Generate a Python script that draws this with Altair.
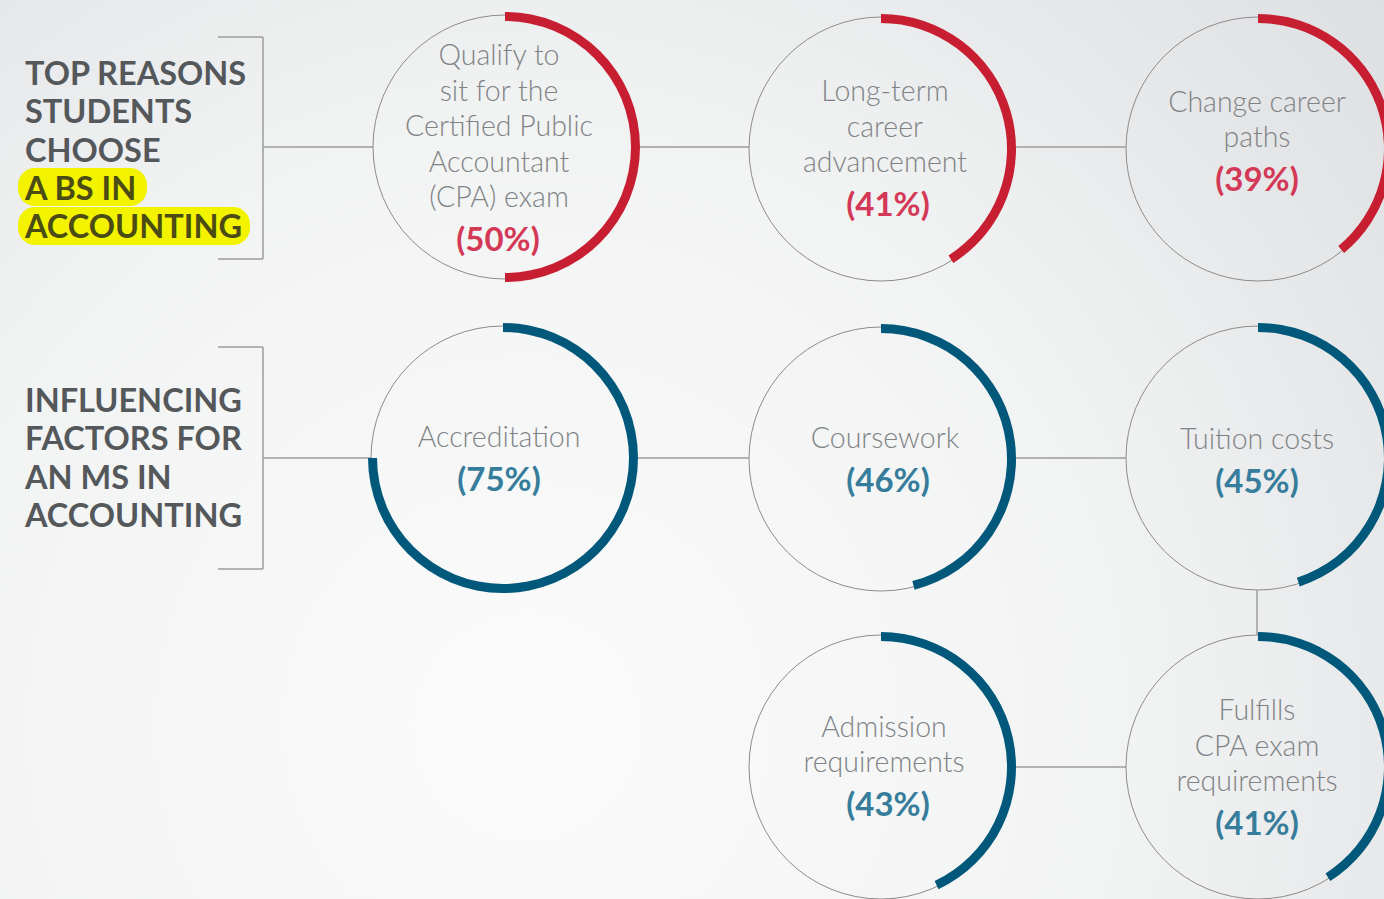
import altair as alt
import pandas as pd
import math

W, H = 1384, 899

# ---- data ----
circle_names = ["Qualify", "Long-term", "Change", "Accreditation", "Coursework", "Tuition", "Admission", "Fulfills"]
circle_groups = ["bs", "bs", "bs", "ms", "ms", "ms", "ms", "ms"]
circle_pcts = [50, 41, 39, 75, 46, 45, 43, 41]
circle_labels = [
    ["Qualify to", "sit for the", "Certified Public", "Accountant", "(CPA) exam"],
    ["Long-term", "career", "advancement"],
    ["Change career", "paths"],
    ["Accreditation"],
    ["Coursework"],
    ["Tuition costs"],
    ["Admission", "requirements"],
    ["Fulfills", "CPA exam", "requirements"],
]
title_bs = ["TOP REASONS", "STUDENTS", "CHOOSE", "A BS IN", "ACCOUNTING"]
title_ms = ["INFLUENCING", "FACTORS FOR", "AN MS IN", "ACCOUNTING"]

# ---- layout (pixels) ----
centers_x = [505, 881, 1258, 503, 881, 1258, 881, 1258]
centers_y = [147, 149, 149, 458, 459, 458, 767, 767]
label_x = [499, 885, 1257, 499, 885, 1257, 884, 1257]
pct_x = [498, 888, 1257, 499, 888, 1257, 888, 1257]
pct_offset = [104, 67, 42, 33, 33, 35, 49, 68]   # baseline of percent text below center
R = 132
LINE_H = 35.5

red, blue = "#c81e32", "#02587b"
red_txt, blue_txt = "#d33956", "#367d9b"
FONT = "Lato"

circ = pd.DataFrame({"name": circle_names, "group": circle_groups, "pct": circle_pcts,
                     "cx": centers_x, "cy": centers_y})
circ["t0"] = 0.0
circ["t1"] = circ["pct"] / 100 * 2 * math.pi
circ["color"] = [red if g == "bs" else blue for g in circ["group"]]

text_rows = []
for i, lines in enumerate(circle_labels):
    base = centers_y[i] + pct_offset[i]
    n = len(lines)
    for j, ln in enumerate(lines):
        y = base - 44 - (n - 1 - j) * LINE_H
        text_rows.append({"t": ln, "x": label_x[i], "y": y, "kind": "label"})
    text_rows.append({"t": f"({circle_pcts[i]}%)", "x": pct_x[i], "y": base,
                      "kind": "pct_" + circle_groups[i]})
texts = pd.DataFrame(text_rows)

title_rows = []
for j, ln in enumerate(title_bs):
    title_rows.append({"t": ln, "x": 25, "y": 85 + j * 38.3, "hl": (j >= 3)})
for j, ln in enumerate(title_ms):
    title_rows.append({"t": ln, "x": 25, "y": 412 + j * 38.3, "hl": False})
titles = pd.DataFrame(title_rows)

# connector lines
seg = []
for row_y, idxs in [(147, [0, 1, 2]), (458, [3, 4, 5])]:
    seg.append({"x": 263, "x2": centers_x[idxs[0]] - R, "y": row_y, "y2": row_y})
    for a, b in zip(idxs[:-1], idxs[1:]):
        seg.append({"x": centers_x[a] + R, "x2": centers_x[b] - R, "y": row_y, "y2": row_y})
seg.append({"x": centers_x[6] + R, "x2": centers_x[7] - R, "y": 767, "y2": 767})
seg.append({"x": 1257, "x2": 1257, "y": centers_y[5] + R, "y2": centers_y[7] - R})
# brackets
for top, bot in [(37, 259), (347, 569)]:
    seg.append({"x": 263, "x2": 263, "y": top, "y2": bot})
    seg.append({"x": 218, "x2": 263, "y": top, "y2": top})
    seg.append({"x": 218, "x2": 263, "y": bot, "y2": bot})
segs = pd.DataFrame(seg)

hl = pd.DataFrame({"x": [18, 18], "x2": [147, 250], "y": [168, 207], "y2": [206, 245]})

xs = alt.Scale(domain=[0, W], range=[0, W])
ys = alt.Scale(domain=[0, H], range=[0, H])
X = lambda f: alt.X(f, type="quantitative", scale=xs, axis=None)
Y = lambda f: alt.Y(f, type="quantitative", scale=ys, axis=None)

bg = alt.Chart(pd.DataFrame({"a": [0]})).mark_rect(
    fill=alt.RadialGradient(gradient="radial", x1=0.38, y1=0.7, r1=0.0, x2=0.38, y2=0.7, r2=0.85,
                            stops=[alt.GradientStop(color="#fbfbfb", offset=0),
                                   alt.GradientStop(color="#f2f3f3", offset=0.5),
                                   alt.GradientStop(color="#dcdde0", offset=1)])
).encode(x=alt.value(0), x2=alt.value(W), y=alt.value(0), y2=alt.value(H))

lines_layer = alt.Chart(segs).mark_rule(color="#9c9c9c", strokeWidth=1.5).encode(
    x=X("x"), x2="x2", y=Y("y"), y2="y2")

rings = alt.Chart(circ).mark_point(shape="circle", filled=False, size=(2 * R) ** 2,
                                   color="#8c8c8c", strokeWidth=1, opacity=1).encode(
    x=X("cx"), y=Y("cy"))

arcs = alt.Chart(circ).mark_arc(innerRadius=126, outerRadius=135).encode(
    x=X("cx"), y=Y("cy"),
    theta=alt.Theta("t0:Q", scale=None), theta2="t1:Q",
    fill=alt.Fill("color:N", scale=None))

hl_layer = alt.Chart(hl).mark_rect(color="#f3f300", cornerRadius=17).encode(
    x=X("x"), x2="x2", y=Y("y"), y2="y2")

title_layer = alt.Chart(titles).mark_text(
    align="left", baseline="alphabetic", font=FONT, fontSize=32.5, fontWeight="bold").encode(
    x=X("x"), y=Y("y"), text="t:N",
    color=alt.condition("datum.hl", alt.value("#4b4b14"), alt.value("#54585b")))

label_layer = alt.Chart(texts).transform_filter("datum.kind == 'label'").mark_text(
    align="center", baseline="alphabetic", font=FONT, fontSize=28.5, fontWeight=300,
    color="#808386").encode(x=X("x"), y=Y("y"), text="t:N")

pct_red = alt.Chart(texts).transform_filter("datum.kind == 'pct_bs'").mark_text(
    align="center", baseline="alphabetic", font=FONT, fontSize=33, fontWeight="bold",
    color=red_txt).encode(x=X("x"), y=Y("y"), text="t:N")
pct_blue = alt.Chart(texts).transform_filter("datum.kind == 'pct_ms'").mark_text(
    align="center", baseline="alphabetic", font=FONT, fontSize=33, fontWeight="bold",
    color=blue_txt).encode(x=X("x"), y=Y("y"), text="t:N")

chart = alt.layer(bg, lines_layer, rings, arcs, hl_layer, title_layer, label_layer, pct_red, pct_blue).properties(
    width=W, height=H, padding=0, autosize=alt.AutoSizeParams(type="none")
).configure_view(stroke=None).configure(background="#f0f0f0")

chart.save("out.html", embed_options={"renderer": "svg", "actions": False})
